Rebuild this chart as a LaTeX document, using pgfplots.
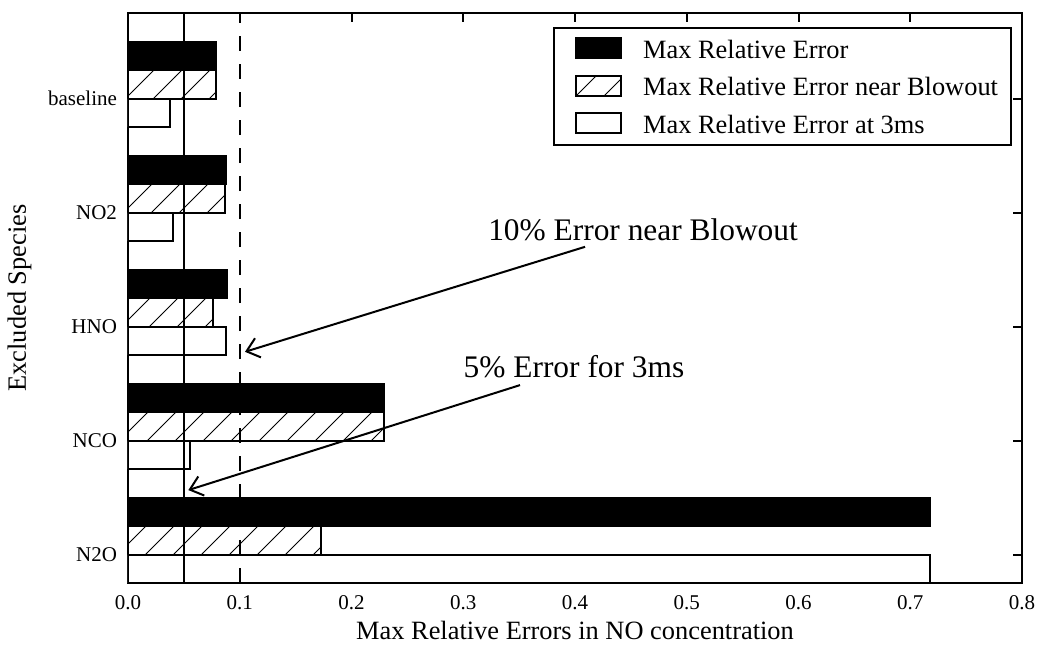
\documentclass[border=0pt]{standalone}
\usepackage{fontspec}
\setmainfont{Liberation Serif}
\usepackage{pgfplots}
\pgfplotsset{compat=1.18}
\usetikzlibrary{patterns.meta,arrows.meta}

\begin{document}
\begin{tikzpicture}
\begin{axis}[
    scale only axis,
    width=447pt, height=285pt,
    xmin=0, xmax=0.8,
    ymin=-0.25, ymax=4.75,
    xtick={0,0.1,...,0.8},
    ytick={0,1,2,3,4},
    yticklabels={N2O,NCO,HNO,NO2,baseline},
    axis line style={line width=1pt},
    tick style={line width=1pt, black},
    major tick length=4.5pt,
    tick label style={font=\fontsize{10.5}{12}\selectfont},
    xticklabel style={yshift=-2.5pt, /pgf/number format/.cd, fixed, fixed zerofill, precision=1, assume math mode=true},
    yticklabel style={xshift=-2pt},
    xlabel={Max Relative Errors in NO concentration},
    ylabel={Excluded Species},
    label style={font=\fontsize{13.2}{15}\selectfont, inner sep=0pt},
    xlabel style={at={(axis description cs:0.5,0)}, anchor=base, yshift=-28pt},
    ylabel style={at={(axis description cs:0,0.5)}, anchor=south, yshift=48pt},
    legend image code/.code={\path (0pt,0pt); \draw[#1] (4pt,0pt) rectangle (26.5pt,10pt);},
    legend style={
        at={(1,1)}, xshift=-5pt, yshift=-7pt, anchor=north east,
        draw=black, line width=1pt,
        font=\fontsize{13.2}{15}\selectfont,
        inner xsep=6.5pt, inner ysep=4.5pt, row sep=6.75pt,
        nodes={inner sep=0pt},
        cells={anchor=base west},
        /tikz/every odd column/.append style={column sep=10.5pt},
    },
]
% black: max relative error
\addplot[xbar, bar width=0.25, bar shift=0.375, fill=black, draw=black, line width=1pt]
    coordinates {(0.718,0) (0.229,1) (0.0886,2) (0.0877,3) (0.079,4)};
\addlegendentry{Max Relative Error}
% hatched: near blowout
\addplot[xbar, bar width=0.25, bar shift=0.125, draw=black, line width=1pt,
    pattern={Lines[angle=45, distance=9.9pt, line width=0.4pt]}]
    coordinates {(0.1727,0) (0.229,1) (0.0764,2) (0.087,3) (0.079,4)};
\addlegendentry{Max Relative Error near Blowout}
% white: at 3ms
\addplot[xbar, bar width=0.25, bar shift=-0.125, fill=white, draw=black, line width=1pt]
    coordinates {(0.718,0) (0.0555,1) (0.0877,2) (0.040,3) (0.038,4)};
\addlegendentry{Max Relative Error at 3ms}

\addplot[black, line width=1pt, forget plot] coordinates {(0.05,-0.25) (0.05,4.75)};
\addplot[black, line width=1pt, dash pattern=on 7.5pt off 6.5pt, forget plot] coordinates {(0.1,-0.25) (0.1,4.75)};

\node[font=\fontsize{15.7}{18}\selectfont, anchor=base] at (axis cs:0.4609,2.752) {10\% Error near Blowout};
\draw[line width=1pt, -{Straight Barb[length=6pt, width=10pt, line width=1pt]}] (axis cs:0.409,2.699) -- (axis cs:0.1047,1.778);
\node[font=\fontsize{15.7}{18}\selectfont, anchor=base] at (axis cs:0.3991,1.556) {5\% Error for 3ms};
\draw[line width=1pt, -{Straight Barb[length=6pt, width=10pt, line width=1pt]}] (axis cs:0.3508,1.486) -- (axis cs:0.054,0.565);
\end{axis}
\pgfresetboundingbox
\useasboundingbox (-64pt,-30.5pt) rectangle (454.5pt,291.5pt);
\end{tikzpicture}
\end{document}
